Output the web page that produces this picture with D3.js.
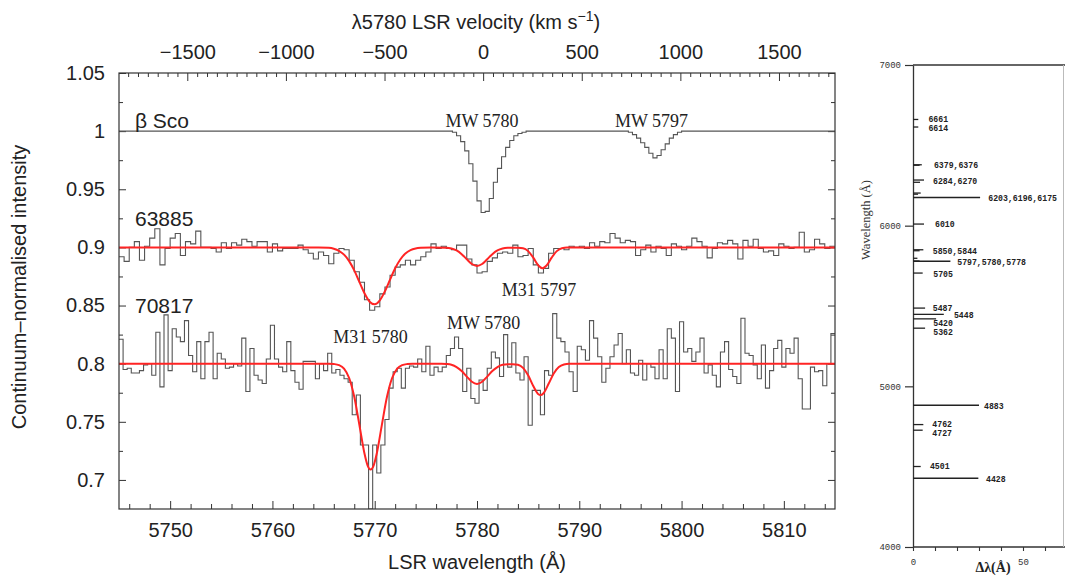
<!DOCTYPE html>
<html><head><meta charset="utf-8">
<script src="https://cdn.jsdelivr.net/npm/d3@7"></script>
<style>body{margin:0;background:#fff} svg{display:block}</style>
</head><body><svg id="c" width="1065" height="578"></svg>
<script>
// ---------------- DATA ----------------
// beta Sco (0.4 A bins from 5776.0), continuum 1 elsewhere
const bscoStart = 5776.0, bscoStep = 0.4;
const bscoValues = [1.000,1.000,1.000,1.000,0.999,0.996,0.991,0.983,0.972,0.957,
  0.940,0.930,0.931,0.942,0.956,0.968,0.978,0.986,0.992,0.996,
  0.998,0.999,1.000,1.000,1.000,1.000,1.000,1.000,1.000,1.000,
  1.000,1.000,1.000,1.000,1.000,1.000,1.000,1.000,1.000,1.000,
  1.000,1.000,1.000,1.000,1.000,1.000,1.000,0.999,0.997,0.994,
  0.990,0.986,0.981,0.977,0.979,0.984,0.989,0.994,0.997,0.999,
  1.000,1.000];

// 63885 (0.5 A bins from 5745.0)
const s63885Start = 5745.0, s63885Step = 0.5;
const s63885Values = [0.892,0.888,0.900,0.905,0.889,0.901,0.908,0.916,0.885,0.899,
  0.908,0.912,0.893,0.905,0.903,0.914,0.900,0.900,0.899,0.896,
  0.904,0.899,0.904,0.902,0.907,0.905,0.901,0.905,0.905,0.896,
  0.903,0.897,0.899,0.899,0.899,0.902,0.898,0.895,0.890,0.896,
  0.893,0.886,0.895,0.899,0.898,0.889,0.879,0.870,0.855,0.846,
  0.849,0.860,0.866,0.876,0.883,0.885,0.889,0.885,0.889,0.892,
  0.896,0.903,0.899,0.901,0.899,0.898,0.902,0.902,0.890,0.885,
  0.878,0.879,0.888,0.891,0.895,0.896,0.895,0.902,0.892,0.893,
  0.899,0.885,0.878,0.882,0.895,0.899,0.899,0.898,0.901,0.900,
  0.901,0.899,0.904,0.901,0.905,0.904,0.912,0.908,0.904,0.906,
  0.905,0.893,0.898,0.902,0.896,0.901,0.899,0.893,0.903,0.901,
  0.898,0.901,0.908,0.905,0.901,0.891,0.899,0.904,0.903,0.906,
  0.903,0.890,0.906,0.901,0.907,0.899,0.896,0.897,0.893,0.903,
  0.901,0.899,0.900,0.913,0.896,0.898,0.907,0.903,0.899,0.901];

// 70817 (0.4 A bins from 5745.0)
const s70817Start = 5745.0, s70817Step = 0.4;
const s70817Values = [0.821,0.795,0.796,0.792,0.792,0.794,0.799,0.800,0.790,0.827,
  0.780,0.842,0.794,0.830,0.823,0.819,0.837,0.807,0.793,0.819,
  0.787,0.819,0.827,0.787,0.809,0.804,0.796,0.797,0.800,0.798,
  0.822,0.776,0.813,0.790,0.786,0.783,0.804,0.833,0.804,0.797,
  0.793,0.819,0.794,
  0.784,0.778,0.802,0.802,0.802,0.787,0.800,0.794,0.809,0.792,
  0.795,0.790,0.787,0.784,0.756,0.773,0.730,0.730,0.675,0.730,
  0.706,0.730,0.752,0.779,0.793,0.796,0.779,0.796,0.798,0.797,
  0.804,0.793,0.815,0.790,0.797,0.793,0.797,0.807,0.813,0.823,
  0.813,0.776,
  0.796,0.770,0.766,0.786,0.777,0.796,0.810,0.805,0.789,0.825,
  0.797,0.818,0.792,0.786,0.806,0.747,0.777,0.777,0.756,0.794,
  0.790,0.843,0.822,0.819,0.810,0.793,0.776,0.815,0.812,0.803,
  0.837,0.822,
  0.806,0.784,0.796,0.806,0.816,0.826,0.800,0.812,0.792,0.790,
  0.803,0.786,0.800,
  0.797,0.787,0.812,0.787,0.830,0.822,0.776,0.836,0.810,0.813,
  0.802,0.810,0.822,0.792,0.799,0.790,0.780,0.810,0.819,0.795,
  0.789,0.783,0.839,0.809,0.807,0.799,0.787,0.816,0.779,0.794,
  0.813,0.820,0.797,0.813,0.809,0.822,0.787,0.761,0.761,0.797,
  0.793,0.794,0.781,0.800,0.826];

// Fitted models
const fit63885Wave = [5745,5764.5,5765.5,5766.0,5766.5,5767.0,5767.5,5768.0,5768.5,5769.0,5769.5,5770.0,5770.5,5771.0,5771.5,5772.0,5772.5,5773.0,5773.5,5774.0,5774.5,5775.5,5777.0,5777.5,5778.0,5778.5,5779.0,5779.5,5780.0,5780.5,5781.0,5781.5,5782.0,5782.5,5783.0,5783.5,5784.0,5784.5,5785.0,5785.5,5786.0,5786.4,5786.8,5787.3,5787.8,5788.3,5788.8,5815];
const fit63885Val  = [0.9,0.9,0.8996,0.8988,0.8971,0.8938,0.8882,0.8802,0.8703,0.8605,0.8533,0.851,0.8544,0.8623,0.8723,0.882,0.8896,0.8947,0.8976,0.899,0.8996,0.9,0.8998,0.8991,0.8974,0.8942,0.8898,0.8857,0.884,0.8857,0.8898,0.8942,0.8974,0.8991,0.8997,0.8998,0.8997,0.8993,0.8968,0.8912,0.8844,0.882,0.8844,0.8912,0.8968,0.8993,0.8999,0.9];
const fit70817Wave = [5745,5765.5,5766.0,5766.5,5767.0,5767.5,5768.0,5768.5,5769.0,5769.3,5769.6,5769.9,5770.2,5770.7,5771.2,5771.7,5772.2,5772.7,5773.2,5773.7,5776.5,5777.0,5777.5,5778.0,5778.5,5779.0,5779.5,5780.0,5780.5,5781.0,5781.5,5782.0,5782.5,5783.0,5783.5,5784.0,5784.5,5785.0,5785.5,5786.0,5786.2,5786.5,5787.0,5787.5,5788.0,5788.5,5789.0,5815];
const fit70817Val  = [0.8,0.8,0.7997,0.7988,0.7958,0.7877,0.7715,0.7474,0.7227,0.7126,0.709,0.7126,0.7227,0.7474,0.7715,0.7877,0.7958,0.7988,0.7997,0.8,0.8,0.7997,0.799,0.7971,0.7937,0.7889,0.7844,0.7825,0.7844,0.7889,0.7937,0.7971,0.799,0.7996,0.7996,0.7991,0.7964,0.790,0.7808,0.7737,0.773,0.7746,0.7827,0.7916,0.7971,0.7993,0.7999,0.8];

// Tick values / labels
const waveTicks = [5750,5760,5770,5780,5790,5800,5810];
const waveTickLabels = ["5750","5760","5770","5780","5790","5800","5810"];
const intensityTicks = [0.7,0.75,0.8,0.85,0.9,0.95,1,1.05];
const intensityTickLabels = ["0.7","0.75","0.8","0.85","0.9","0.95","1","1.05"];
const intensityMinor = [0.725,0.775,0.825,0.875,0.925,0.975,1.025];
const velTicks = [-1500,-1000,-500,0,500,1000,1500];
const velTickLabels = ["\u22121500","\u22121000","\u2212500","0","500","1000","1500"];

// Annotations (data coordinates)
const sansLabels = [
  {t:"\u03b2 Sco", w:5746.56, v:1.0027},
  {t:"63885", w:5746.56, v:0.9184},
  {t:"70817", w:5746.56, v:0.8435}];
const serifLabels = [
  {t:"MW 5780", w:5780.49, v:1.0035},
  {t:"MW 5797", w:5797.06, v:1.0035},
  {t:"M31 5797", w:5786.06, v:0.8581},
  {t:"M31 5780", w:5769.59, v:0.8177},
  {t:"MW 5780", w:5780.65, v:0.8297}];

// Right panel: DIB list
const dibWave  = [6661,6614,6379,6376,6284,6270,6203,6196,6175,6010,5850,5844,5797,5780,5778,5705,5487,5448,5420,5362,4883,4762,4727,4501,4428];
const dibWidth = [2.4,2.4,4,3,5,3.2,3.5,2.3,30.5,5,4.7,3,2,3,17,4.4,5.5,14,10.5,5.5,30,4.7,4.4,3.5,29.7];
const dibLabelText = ["6661","6614","6379,6376","6284,6270","6203,6196,6175","6010","5850,5844","5797,5780,5778","5705","5487","5448","5420","5362","4883","4762","4727","4501","4428"];
const dibLabelWave = [6661,6608,6375,6279,6171,6012,5843,5771,5700,5486,5443,5393,5339,4879,4762,4706,4501,4420];
const dibLabelDx   = [7.0,7.0,9.5,9.1,34.2,10.0,9.0,20.1,9.2,9.0,18.6,9.2,9.2,32.3,8.8,8.8,7.7,33.2];
const rWaveTicks = [4000,5000,6000,7000];
const rWidthTicks = [0,10,20,30,40,50,60];

// ---------------- DRAW ----------------
const svg = d3.select("#c");
const sans = "'Liberation Sans', Arial, Helvetica, sans-serif";
const serif = "'Liberation Serif', 'Times New Roman', serif";
const mono = "'Liberation Mono', 'DejaVu Sans Mono', monospace";
const X0=119, X1=835, Y0=73, Y1=509;
const x = d3.scaleLinear().domain([5745,5815]).range([X0,X1]);
const y = d3.scaleLinear().domain([0.675,1.05]).range([Y1,Y0]);
const REST=5780.6, C=299792.458;
const xv = d3.scaleLinear().domain([C*(5745-REST)/REST, C*(5815-REST)/REST]).range([X0,X1]);

function styleAxis(g, fs){
  g.select(".domain").remove();
  g.selectAll("line").attr("stroke","#333").attr("stroke-width",1);
  g.selectAll("text").attr("font-family",sans).attr("font-size",fs).attr("fill","#222");
}
// bottom
svg.append("g").attr("transform",`translate(0,${Y1})`)
  .call(d3.axisBottom(x).tickValues(waveTicks).tickFormat((d,i)=>waveTickLabels[i]).tickSizeInner(-8).tickSizeOuter(0).tickPadding(14))
  .call(g=>styleAxis(g,20));
svg.append("g").attr("transform",`translate(0,${Y1})`)
  .call(d3.axisBottom(x).tickValues(d3.range(5746,5815,2).filter(d=>d%10!==0)).tickFormat("").tickSizeInner(-5).tickSizeOuter(0))
  .call(g=>styleAxis(g,20));
// left
svg.append("g").attr("transform",`translate(${X0},0)`)
  .call(d3.axisLeft(y).tickValues(intensityTicks).tickFormat((d,i)=>intensityTickLabels[i]).tickSizeInner(-7).tickSizeOuter(0).tickPadding(14))
  .call(g=>styleAxis(g,20));
svg.append("g").attr("transform",`translate(${X0},0)`)
  .call(d3.axisLeft(y).tickValues(intensityMinor).tickFormat("").tickSizeInner(-4).tickSizeOuter(0))
  .call(g=>styleAxis(g,20));
// right
svg.append("g").attr("transform",`translate(${X1},0)`)
  .call(d3.axisRight(y).tickValues(intensityTicks).tickFormat("").tickSizeInner(-7).tickSizeOuter(0))
  .call(g=>styleAxis(g,20));
svg.append("g").attr("transform",`translate(${X1},0)`)
  .call(d3.axisRight(y).tickValues(intensityMinor).tickFormat("").tickSizeInner(-4).tickSizeOuter(0))
  .call(g=>styleAxis(g,20));
// top velocity
svg.append("g").attr("transform",`translate(0,${Y0})`)
  .call(d3.axisTop(xv).tickValues(velTicks).tickFormat((d,i)=>velTickLabels[i]).tickSizeInner(-8).tickSizeOuter(0).tickPadding(14))
  .call(g=>styleAxis(g,20));
const vdom = xv.domain();
svg.append("g").attr("transform",`translate(0,${Y0})`)
  .call(d3.axisTop(xv).tickValues(d3.range(-1800,1800,50).filter(d=>d%500!==0 && d>vdom[0] && d<vdom[1])).tickFormat("").tickSizeInner(-4).tickSizeOuter(0))
  .call(g=>styleAxis(g,20));

// clip
svg.append("clipPath").attr("id","plotclip").append("rect")
  .attr("x",X0).attr("y",Y0).attr("width",X1-X0).attr("height",Y1-Y0);
const plot = svg.append("g").attr("clip-path","url(#plotclip)");

function stepPoints(start, step, vals){
  const pts = vals.map((v,i)=>[start+i*step, v]);
  pts.push([start+vals.length*step, vals[vals.length-1]]);
  return pts;
}
const stepLine = d3.line().x(d=>x(d[0])).y(d=>y(d[1])).curve(d3.curveStepAfter);
const fitLine = d3.line().x(d=>x(d[0])).y(d=>y(d[1])).curve(d3.curveMonotoneX);

const bscoPts = [[5745,1.0]].concat(stepPoints(bscoStart,bscoStep,bscoValues)).concat([[5815,1.0]]);
plot.append("path").attr("d",stepLine(bscoPts)).attr("fill","none").attr("stroke","#555").attr("stroke-width",1.1);
plot.append("path").attr("d",stepLine(stepPoints(s63885Start,s63885Step,s63885Values))).attr("fill","none").attr("stroke","#555").attr("stroke-width",1.1);
plot.append("path").attr("d",stepLine(stepPoints(s70817Start,s70817Step,s70817Values))).attr("fill","none").attr("stroke","#555").attr("stroke-width",1.1);
plot.append("path").attr("d",fitLine(fit63885Wave.map((w,i)=>[w,fit63885Val[i]]))).attr("fill","none").attr("stroke","#ff2424").attr("stroke-width",2);
plot.append("path").attr("d",fitLine(fit70817Wave.map((w,i)=>[w,fit70817Val[i]]))).attr("fill","none").attr("stroke","#ff2424").attr("stroke-width",2);

// frame
svg.append("rect").attr("x",X0).attr("y",Y0).attr("width",X1-X0).attr("height",Y1-Y0)
  .attr("fill","none").attr("stroke","#333").attr("stroke-width",1.2);

// labels
svg.selectAll(".sl").data(sansLabels).enter().append("text")
  .attr("x",d=>x(d.w)).attr("y",d=>y(d.v)).text(d=>d.t)
  .attr("font-family",sans).attr("font-size",21).attr("fill","#222");
svg.selectAll(".fl").data(serifLabels).enter().append("text")
  .attr("x",d=>x(d.w)).attr("y",d=>y(d.v)).text(d=>d.t).attr("text-anchor","middle")
  .attr("font-family",serif).attr("font-size",18).attr("fill","#222");

// axis titles
svg.append("text").attr("transform","translate(26,287) rotate(-90)").attr("text-anchor","middle")
  .attr("font-family",sans).attr("font-size",20).attr("fill","#222").text("Continuum\u2013normalised intensity");
svg.append("text").attr("x",477).attr("y",569).attr("text-anchor","middle")
  .attr("font-family",sans).attr("font-size",20).attr("fill","#222").text("LSR wavelength (\u00c5)");
const tt = svg.append("text").attr("x",476).attr("y",29).attr("text-anchor","middle")
  .attr("font-family",sans).attr("font-size",20).attr("fill","#222");
tt.append("tspan").text("\u03bb5780 LSR velocity (km s");
tt.append("tspan").attr("dy",-8).attr("font-size",14).text("\u22121");
tt.append("tspan").attr("dy",8).text(")");

// ---------------- RIGHT PANEL ----------------
const ry = d3.scaleLinear().domain([4000,7000]).range([547,65]);
const rx = d3.scaleLinear().domain([0,50]).range([913,1023]);
const rp = svg.append("g");
rp.append("g").attr("transform",`translate(${rx(0)},0)`)
  .call(d3.axisLeft(ry).tickValues(rWaveTicks).tickSizeInner(8).tickSizeOuter(0).tickPadding(4).tickFormat(d3.format("d")))
  .call(g=>{g.select(".domain").attr("stroke","#333").attr("stroke-width",1.3);
    g.selectAll("line").attr("stroke","#333").attr("stroke-width",1.2);
    g.selectAll("text").attr("font-family",mono).attr("font-size",9).attr("fill","#333");});
rp.append("g").attr("transform",`translate(0,${ry(4000)})`)
  .call(d3.axisBottom(rx).tickValues(rWidthTicks).tickSizeInner(4).tickSizeOuter(0).tickPadding(8).tickFormat(d=>(d===0||d===50)?String(d):""))
  .call(g=>{g.select(".domain").attr("stroke","#333").attr("stroke-width",1.3).attr("d",`M${rx(0)},0H${1065}`);
    g.selectAll("line").attr("stroke","#333").attr("stroke-width",1.1);
    g.selectAll("text").attr("font-family",mono).attr("font-size",9).attr("fill","#333");});
rp.append("line").attr("x1",rx(0)).attr("x2",1065).attr("y1",ry(7000)).attr("y2",ry(7000))
  .attr("stroke","#333").attr("stroke-width",1.4);
rp.append("line").attr("x1",1063.5).attr("x2",1063.5).attr("y1",ry(7000)).attr("y2",ry(4000))
  .attr("stroke","#bbb").attr("stroke-width",1);
rp.selectAll(".bar").data(dibWave).enter().append("line")
  .attr("x1",rx(0)).attr("x2",(d,i)=>rx(dibWidth[i]))
  .attr("y1",d=>ry(d)).attr("y2",d=>ry(d))
  .attr("stroke","#222").attr("stroke-width",(d,i)=>dibWidth[i]>15?1.5:1.3);
rp.selectAll(".dl").data(dibLabelText).enter().append("text")
  .attr("x",(d,i)=>rx(dibLabelDx[i])).attr("y",(d,i)=>ry(dibLabelWave[i])).attr("dy","0.35em")
  .text(d=>d).attr("font-family",mono).attr("font-size",8.2).attr("font-weight","bold").attr("fill","#222");
rp.append("text").attr("transform","translate(870,220) rotate(-90)").attr("text-anchor","middle")
  .attr("font-family",serif).attr("font-size",12.5).attr("fill","#333").text("Wavelength (\u00c5)");
rp.append("text").attr("x",993).attr("y",572).attr("text-anchor","middle")
  .attr("font-family",serif).attr("font-size",14).attr("font-weight","bold").attr("fill","#222").text("\u0394\u03bb(\u00c5)");
</script></body></html>
